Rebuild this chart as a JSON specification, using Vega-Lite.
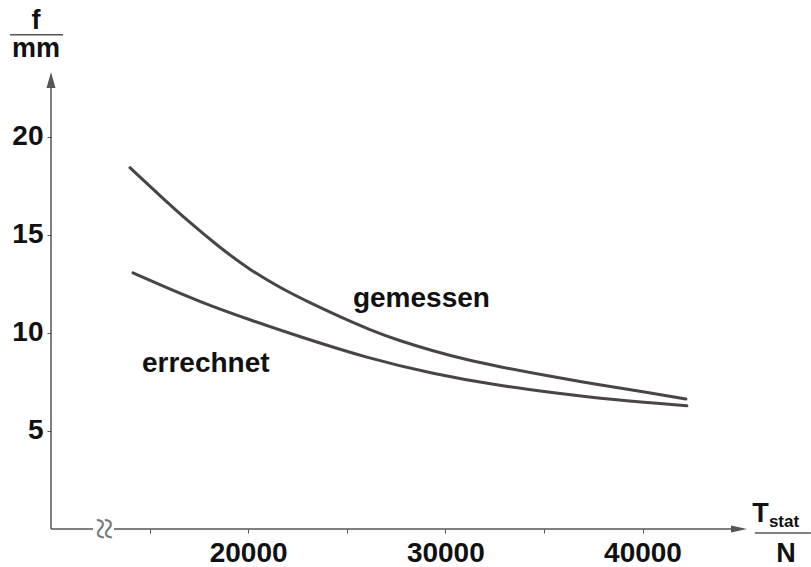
{
  "$schema": "https://vega.github.io/schema/vega-lite/v6.json",
  "width": 696,
  "height": 457,
  "autosize": "none",
  "padding": {"left": 51, "top": 72, "right": 64, "bottom": 38},
  "background": "white",
  "config": {"view": {"stroke": null}, "font": "Liberation Sans"},
  "datasets": {
    "curves": [
      {"series": "gemessen", "x": 14006, "y": 18.42},
      {"series": "gemessen", "x": 15527, "y": 16.99},
      {"series": "gemessen", "x": 17049, "y": 15.61},
      {"series": "gemessen", "x": 18570, "y": 14.34},
      {"series": "gemessen", "x": 20091, "y": 13.21},
      {"series": "gemessen", "x": 21613, "y": 12.3},
      {"series": "gemessen", "x": 23134, "y": 11.53},
      {"series": "gemessen", "x": 24655, "y": 10.82},
      {"series": "gemessen", "x": 26176, "y": 10.15},
      {"series": "gemessen", "x": 27698, "y": 9.59},
      {"series": "gemessen", "x": 29371, "y": 9.08},
      {"series": "gemessen", "x": 31095, "y": 8.62},
      {"series": "gemessen", "x": 32769, "y": 8.27},
      {"series": "gemessen", "x": 35152, "y": 7.81},
      {"series": "gemessen", "x": 37840, "y": 7.35},
      {"series": "gemessen", "x": 40375, "y": 6.94},
      {"series": "gemessen", "x": 42201, "y": 6.63},
      {"series": "errechnet", "x": 14158, "y": 13.06},
      {"series": "errechnet", "x": 15527, "y": 12.45},
      {"series": "errechnet", "x": 17556, "y": 11.58},
      {"series": "errechnet", "x": 20091, "y": 10.66},
      {"series": "errechnet", "x": 22627, "y": 9.8},
      {"series": "errechnet", "x": 26024, "y": 8.72},
      {"series": "errechnet", "x": 29371, "y": 7.91},
      {"series": "errechnet", "x": 32769, "y": 7.3},
      {"series": "errechnet", "x": 35152, "y": 6.99},
      {"series": "errechnet", "x": 38499, "y": 6.58},
      {"series": "errechnet", "x": 42252, "y": 6.28}
    ],
    "axislines": [
      {"x": 10000, "x2": 10000, "y": 0, "y2": 23.0},
      {"x": 10000, "x2": 12130, "y": 0, "y2": 0},
      {"x": 13195, "x2": 45000, "y": 0, "y2": 0},
      {"x": 7921, "x2": 10609, "y": 25.2, "y2": 25.2},
      {"x": 45700, "x2": 48540, "y": -0.2, "y2": -0.2}
    ],
    "arrows": [
      {"x": 10000, "y": 23.3, "dir": "up"},
      {"x": 45300, "y": 0, "dir": "right"}
    ],
    "labels": [
      {"x": 25314, "y": 11.33, "text": "gemessen"},
      {"x": 14615, "y": 8.01, "text": "errechnet"}
    ],
    "titles": [
      {"x": 9239, "y": 25.5, "text": "f"},
      {"x": 9239, "y": 24.08, "text": "mm"},
      {"x": 45979, "y": 0.36, "text": "T"},
      {"x": 47272, "y": -1.68, "text": "N"}
    ],
    "subs": [
      {"x": 46410, "y": 0.1, "text": "stat"}
    ],
    "breaks": [
      {"x": 12662, "y": 0, "text": "≈"}
    ]
  },
  "layer": [
    {
      "data": {"name": "curves"},
      "mark": {"type": "line", "interpolate": "basis", "stroke": "#4a4446", "strokeWidth": 3, "strokeCap": "round"},
      "encoding": {
        "x": {
          "field": "x", "type": "quantitative",
          "scale": {"domain": [10000, 45300], "nice": false, "zero": false},
          "axis": {
            "values": [15000, 20000, 25000, 30000, 35000, 40000],
            "domain": false, "grid": false, "title": null,
            "tickSize": 4, "tickColor": "#555", "tickWidth": 1,
            "labelExpr": "datum.value % 10000 == 0 ? format(datum.value, 'd') : ''",
            "labelFont": "Liberation Sans", "labelFontSize": 28, "labelFontWeight": "bold",
            "labelColor": "#111", "labelPadding": 6, "labelFlush": false, "labelOverlap": false
          }
        },
        "y": {
          "field": "y", "type": "quantitative",
          "scale": {"domain": [0, 23.3], "nice": false, "zero": false},
          "axis": {
            "values": [5, 10, 15, 20],
            "domain": false, "grid": false, "title": null,
            "tickSize": 4, "tickColor": "#555", "tickWidth": 1,
            "labelFont": "Liberation Sans", "labelFontSize": 28, "labelFontWeight": "bold",
            "labelColor": "#111", "labelPadding": 4
          }
        },
        "detail": {"field": "series", "type": "nominal"}
      }
    },
    {
      "data": {"name": "axislines"},
      "mark": {"type": "rule", "stroke": "#555", "strokeWidth": 1.5},
      "encoding": {
        "x": {"field": "x", "type": "quantitative"},
        "x2": {"field": "x2"},
        "y": {"field": "y", "type": "quantitative"},
        "y2": {"field": "y2"}
      }
    },
    {
      "data": {"name": "arrows"},
      "mark": {"type": "point", "filled": true, "size": 256, "color": "#555", "opacity": 1},
      "encoding": {
        "x": {"field": "x", "type": "quantitative"},
        "y": {"field": "y", "type": "quantitative"},
        "shape": {
          "field": "dir", "type": "nominal",
          "scale": {"domain": ["up", "right"], "range": ["M0,0L0.56,2L-0.56,2Z", "M0,0L-2,0.45L-2,-0.45Z"]},
          "legend": null
        }
      }
    },
    {
      "data": {"name": "breaks"},
      "mark": {"type": "text", "angle": 90, "align": "center", "baseline": "middle", "fontSize": 40, "color": "#777", "font": "DejaVu Sans", "fontWeight": 200},
      "encoding": {
        "x": {"field": "x", "type": "quantitative"},
        "y": {"field": "y", "type": "quantitative"},
        "text": {"field": "text"}
      }
    },
    {
      "data": {"name": "labels"},
      "mark": {"type": "text", "align": "left", "baseline": "alphabetic", "fontSize": 28, "fontWeight": "bold", "color": "#111"},
      "encoding": {
        "x": {"field": "x", "type": "quantitative"},
        "y": {"field": "y", "type": "quantitative"},
        "text": {"field": "text"}
      }
    },
    {
      "data": {"name": "titles"},
      "mark": {"type": "text", "align": "center", "baseline": "alphabetic", "fontSize": 27, "fontWeight": "bold", "color": "#111"},
      "encoding": {
        "x": {"field": "x", "type": "quantitative"},
        "y": {"field": "y", "type": "quantitative"},
        "text": {"field": "text"}
      }
    },
    {
      "data": {"name": "subs"},
      "mark": {"type": "text", "align": "left", "baseline": "alphabetic", "fontSize": 17, "fontWeight": "bold", "color": "#111"},
      "encoding": {
        "x": {"field": "x", "type": "quantitative"},
        "y": {"field": "y", "type": "quantitative"},
        "text": {"field": "text"}
      }
    }
  ]
}
